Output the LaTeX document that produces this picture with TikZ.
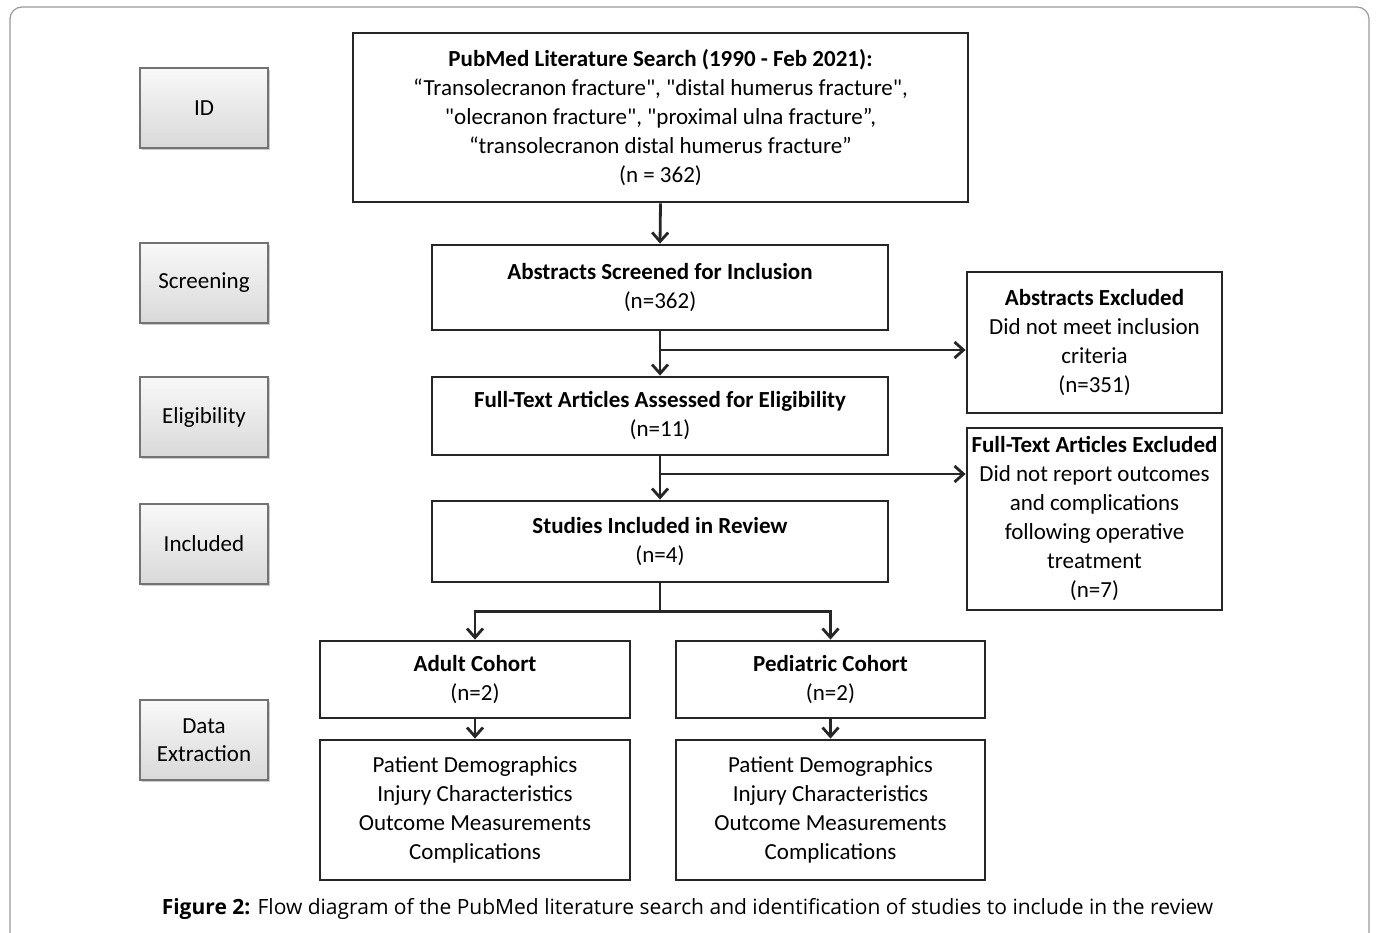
\documentclass[tikz,border=0pt]{standalone}
\usepackage{fontspec}
\setmainfont{Carlito}[Ligatures=TeXOff]
\newfontfamily\capfont{Open Sans}
\usetikzlibrary{arrows.meta,shadows}

\begin{document}
\begin{tikzpicture}[x=1pt,y=-1pt,
        box/.style={draw=black!85, line width=2.8pt, align=center, inner sep=0pt, font=\fontsize{23}{29}\selectfont},
        stage/.style={draw=black!55, line width=1.8pt, top color=gray!5, bottom color=gray!30, align=center, minimum width=128pt, minimum height=80pt, font=\fontsize{23}{28}\selectfont, drop shadow={shadow xshift=1.5pt, shadow yshift=-2pt, opacity=.4}},
        arr/.style={draw=black!85, line width=2.8pt, -{Straight Barb[length=9pt,width=16pt]}}]
    \useasboundingbox (0,0) rectangle (1376,933);
    \clip (0,0) rectangle (1376,933);
    \draw[gray!80, line width=1.2pt, rounded corners=12pt] (10,7) rectangle (1369,990);

    \node[stage] (id) at (204,108) {ID};
    \node[stage] (scr) at (204,283) {Screening};
    \node[stage] (eli) at (204,417) {Eligibility};
    \node[stage] (inc) at (204,544) {Included};
    \node[stage] (dat) at (204,740) {Data\\Extraction};

    \node[box, minimum width=615pt, minimum height=169pt] (search) at (660.5,117.5) {\textbf{PubMed Literature Search (1990 - Feb 2021):}\\“Transolecranon fracture", "distal humerus fracture",\\"olecranon fracture", "proximal ulna fracture”,\\“transolecranon distal humerus fracture”\\(n = 362)};
    \node[box, minimum width=456pt, minimum height=85pt] (screen) at (660,287.5) {\textbf{Abstracts Screened for Inclusion}\\(n=362)};
    \node[box, minimum width=456pt, minimum height=78pt] (assess) at (660,416) {\textbf{Full-Text Articles Assessed for Eligibility}\\(n=11)};
    \node[box, minimum width=456pt, minimum height=81pt] (studies) at (660,541.5) {\textbf{Studies Included in Review}\\(n=4)};
    \node[box, minimum width=255pt, minimum height=141pt] (absex) at (1094.5,342.5) {\textbf{Abstracts Excluded}\\Did not meet inclusion\\criteria\\(n=351)};
    \node[box, minimum width=255pt, minimum height=182pt] (ftex) at (1094.5,519) {\textbf{Full-Text Articles Excluded}\\Did not report outcomes\\and complications\\following operative\\treatment\\(n=7)};
    \node[box, minimum width=310pt, minimum height=77pt] (adult) at (475,679.5) {\textbf{Adult Cohort}\\(n=2)};
    \node[box, minimum width=309pt, minimum height=77pt] (ped) at (830.5,679.5) {\textbf{Pediatric Cohort}\\(n=2)};
    \node[box, minimum width=310pt, minimum height=140pt] (adultdata) at (475,810) {Patient Demographics\\Injury Characteristics\\Outcome Measurements\\Complications};
    \node[box, minimum width=309pt, minimum height=140pt] (peddata) at (830.5,810) {Patient Demographics\\Injury Characteristics\\Outcome Measurements\\Complications};

    \coordinate (b1) at (660,350);
    \coordinate (b2) at (660,474);
    \draw[arr] (search.south) -- (screen.north);
    \draw[arr] (screen.south) -- (assess.north);
    \draw[arr] (b1) -- (b1 -| absex.west);
    \draw[arr] (assess.south) -- (studies.north);
    \draw[arr] (b2) -- (b2 -| ftex.west);
    \draw[arr] (studies.south) -- ++(0,28) -| (adult.north);
    \draw[arr] (studies.south) -- ++(0,28) -| (ped.north);
    \draw[arr] (adult.south) -- (adultdata.north);
    \draw[arr] (ped.south) -- (peddata.north);

    \node[font=\capfont\fontsize{21}{24}\selectfont] (cap) at (687.5,909) {\textbf{Figure 2:} Flow diagram of the PubMed literature search and identification of studies to include in the review};
\end{tikzpicture}
\end{document}
